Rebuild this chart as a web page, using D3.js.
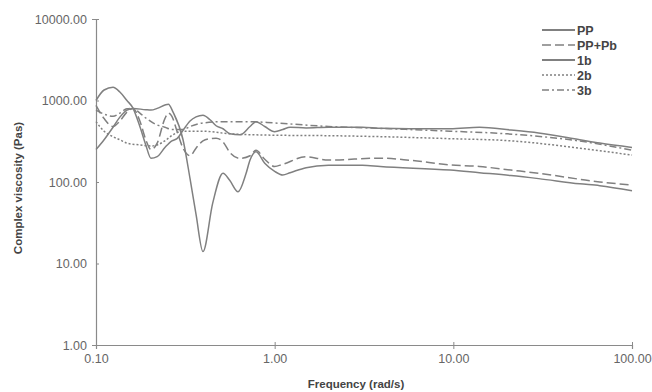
<!DOCTYPE html>
<html>
<head>
<meta charset="utf-8">
<script src="https://cdn.jsdelivr.net/npm/d3@7"></script>
<style>
  body { margin: 0; background: #fff; }
  svg text { font-family: "Liberation Sans", Arial, sans-serif; }
</style>
</head>
<body>
<div id="chart"></div>
<script>
// series names and frequencies (rad/s) / complex viscosity (Pa s)
var seriesNames = ["PP", "PP+Pb", "1b", "2b", "3b"];

var ppFreq = [0.100, 0.111, 0.1245, 0.136, 0.149, 0.161, 0.176, 0.19, 0.203, 0.22, 0.243, 0.266, 0.284, 0.307, 0.336, 0.363, 0.397, 0.435, 0.47, 0.514, 0.562, 0.64, 0.728, 0.786, 0.88, 1.0, 1.11, 1.22, 1.5, 2.0, 3.1, 3.9, 5.7, 9.6, 14, 21, 30, 51, 66, 100];
var ppVisc = [1000, 1345, 1450, 1270, 1000, 808, 480, 285, 196, 205, 265, 320, 340, 430, 560, 630, 660, 580, 490, 450, 390, 380, 480, 550, 480, 415, 440, 470, 460, 470, 470, 455, 450, 450, 470, 435, 400, 330, 300, 265];

var ppPbFreq = [0.100, 0.111, 0.1245, 0.136, 0.149, 0.161, 0.176, 0.19, 0.203, 0.22, 0.243, 0.254, 0.266, 0.284, 0.307, 0.336, 0.363, 0.397, 0.435, 0.47, 0.514, 0.562, 0.64, 0.728, 0.786, 0.88, 1.0, 1.11, 1.5, 2.0, 3.9, 5.7, 9.6, 14, 21, 30, 51, 66, 100];
var ppPbVisc = [870, 600, 480, 560, 720, 800, 560, 330, 250, 300, 600, 700, 640, 420, 260, 210, 260, 320, 340, 345, 310, 230, 195, 210, 245, 190, 155, 165, 204, 186, 196, 185, 162, 155, 140, 128, 108, 100, 92];

var b1Freq = [0.100, 0.111, 0.1245, 0.136, 0.149, 0.161, 0.19, 0.203, 0.22, 0.243, 0.254, 0.27, 0.307, 0.336, 0.363, 0.397, 0.45, 0.514, 0.56, 0.624, 0.69, 0.728, 0.786, 0.88, 1.0, 1.11, 1.22, 1.5, 2.0, 3.1, 3.9, 9.6, 14, 21, 30, 51, 66, 100];
var b1Visc = [250, 330, 470, 625, 760, 800, 770, 763, 800, 880, 900, 720, 330, 110, 40, 14, 55, 128, 105, 76, 125, 186, 235, 170, 135, 122, 130, 150, 160, 161, 155, 140, 130, 120, 110, 95, 90, 78];

var b2Freq = [0.100, 0.111, 0.1245, 0.136, 0.149, 0.176, 0.203, 0.22, 0.243, 0.27, 0.307, 0.397, 0.56, 1.0, 2.0, 3.9, 9.6, 21, 51, 100];
var b2Visc = [550, 420, 360, 330, 300, 285, 277, 285, 320, 380, 420, 420, 390, 375, 370, 360, 340, 320, 260, 214];

var b3Freq = [0.100, 0.111, 0.1245, 0.136, 0.149, 0.161, 0.176, 0.19, 0.22, 0.243, 0.266, 0.307, 0.336, 0.397, 0.514, 0.728, 1.0, 2.0, 3.9, 9.6, 20, 50, 100];
var b3Visc = [760, 680, 640, 700, 790, 800, 700, 610, 500, 470, 440, 440, 480, 530, 550, 550, 530, 480, 455, 420, 390, 320, 246];

var xTicks = [0.1, 1, 10, 100];
var yTicks = [1, 10, 100, 1000, 10000];

var dashes = ["none", "9,4", "none", "2,2", "7,3,2,3"];

var width = 652, height = 392;
var margin = {top: 19, right: 20, bottom: 47, left: 96};

var svg = d3.select("#chart").append("svg")
    .attr("width", width)
    .attr("height", height);

var x = d3.scaleLog()
    .domain([0.1, 100])
    .range([margin.left, width - margin.right]);

var y = d3.scaleLog()
    .domain([1, 10000])
    .range([height - margin.bottom, margin.top]);

var fmt = d3.format(".2f");
var axisColor = "#8a8a8a";

// y axis
var gy = svg.append("g")
    .attr("transform", "translate(" + margin.left + ",0)")
    .call(d3.axisLeft(y).tickValues(yTicks).tickFormat(fmt).tickSize(4).tickPadding(5));
gy.selectAll(".tick line").attr("x2", 3);

// x axis
var gx = svg.append("g")
    .attr("transform", "translate(0," + (height - margin.bottom) + ")")
    .call(d3.axisBottom(x).tickValues(xTicks).tickFormat(fmt).tickSize(4).tickPadding(5));
gx.selectAll(".tick line").attr("y1", -3);

svg.selectAll(".domain").attr("stroke", axisColor).attr("stroke-width", 1.2);
svg.selectAll(".tick line").attr("stroke", axisColor);
svg.selectAll(".tick text")
    .attr("fill", "#666")
    .style("font-size", "12.5px");

svg.append("text")
    .attr("x", (margin.left + width - margin.right) / 2 - 8)
    .attr("y", 388)
    .attr("text-anchor", "middle")
    .attr("fill", "#444")
    .style("font-size", "11.5px")
    .style("font-weight", "bold")
    .text("Frequency (rad/s)");

svg.append("text")
    .attr("transform", "translate(22,188) rotate(-90)")
    .attr("text-anchor", "middle")
    .attr("fill", "#444")
    .style("font-size", "11.5px")
    .style("font-weight", "bold")
    .text("Complex viscosity (Pas)");

function pairs(fs, vs) {
    return fs.map(function (f, i) { return [f, vs[i]]; });
}

var series = [
    pairs(ppFreq, ppVisc),
    pairs(ppPbFreq, ppPbVisc),
    pairs(b1Freq, b1Visc),
    pairs(b2Freq, b2Visc),
    pairs(b3Freq, b3Visc)
];

var line = d3.line()
    .x(function (d) { return x(d[0]); })
    .y(function (d) { return y(d[1]); })
    .curve(d3.curveMonotoneX);

var lineColor = "#808080";

svg.selectAll(".series")
    .data(series)
    .enter()
    .append("path")
    .attr("class", "series")
    .attr("d", line)
    .attr("fill", "none")
    .attr("stroke", lineColor)
    .attr("stroke-width", 1.5)
    .attr("stroke-dasharray", function (d, i) { return dashes[i]; });

// legend
var legend = svg.append("g").attr("transform", "translate(542,30)");
var item = legend.selectAll(".item")
    .data(seriesNames)
    .enter()
    .append("g")
    .attr("class", "item")
    .attr("transform", function (d, i) { return "translate(0," + (i * 15) + ")"; });

item.append("line")
    .attr("x1", 0)
    .attr("x2", 33)
    .attr("stroke", lineColor)
    .attr("stroke-width", function (d, i) { return (i === 0 || i === 2) ? 2 : 1.5; })
    .attr("stroke-dasharray", function (d, i) { return dashes[i]; });

item.append("text")
    .attr("x", 35)
    .attr("dy", "0.36em")
    .attr("fill", "#444")
    .style("font-size", "12.5px")
    .style("font-weight", "bold")
    .text(function (d) { return d; });
</script>
</body>
</html>
